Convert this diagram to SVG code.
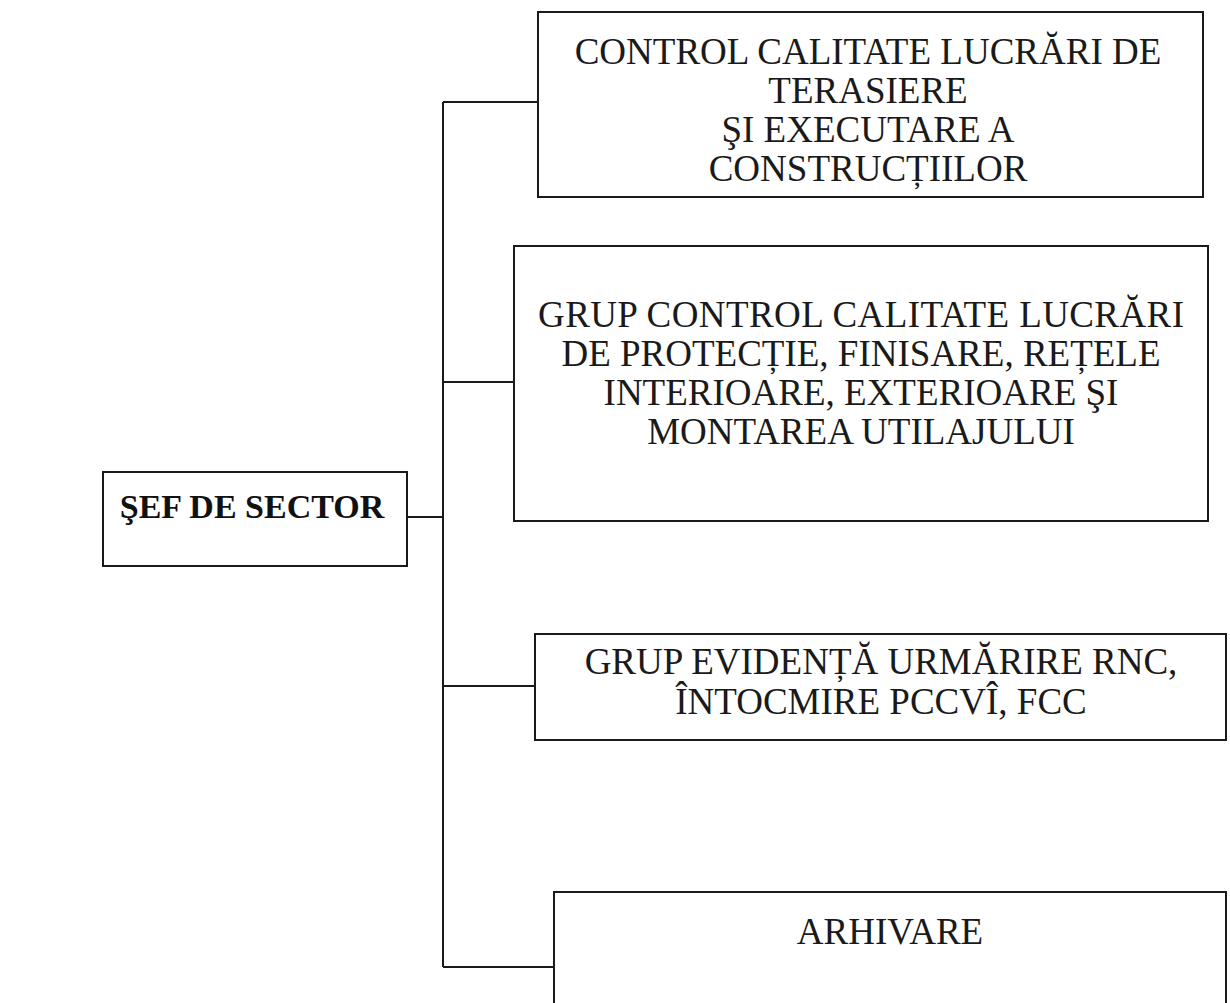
<svg xmlns="http://www.w3.org/2000/svg" width="1230" height="1003" viewBox="0 0 1230 1003">
<style>
  .box { fill: #ffffff; stroke: #1a1a1a; stroke-width: 2; }
  .conn { fill: none; stroke: #1a1a1a; stroke-width: 2; }
  .t { font-family: "Liberation Serif", "Times New Roman", serif; font-size: 37px; fill: #1a1a1a; text-anchor: middle; }
  .tb { font-family: "Liberation Serif", "Times New Roman", serif; font-size: 34px; font-weight: bold; fill: #111; text-anchor: middle; }
</style>
<rect width="1230" height="1003" fill="#ffffff"/>
<g id="connectors">
  <line class="conn" x1="443" y1="102" x2="443" y2="967"/>
  <line class="conn" x1="407" y1="517" x2="443" y2="517"/>
  <line class="conn" x1="443" y1="102" x2="538" y2="102"/>
  <line class="conn" x1="443" y1="382" x2="514" y2="382"/>
  <line class="conn" x1="443" y1="686" x2="535" y2="686"/>
  <line class="conn" x1="443" y1="967" x2="558" y2="967"/>
</g>
<g id="sef">
  <rect class="box" x="103" y="472" width="304" height="94"/>
  <text class="tb" x="252" y="518">ŞEF DE SECTOR</text>
</g>
<g id="control-terasiere">
  <rect class="box" x="538" y="12" width="665" height="185"/>
  <text class="t" x="868" y="64">CONTROL CALITATE LUCRĂRI DE</text>
  <text class="t" x="868" y="103">TERASIERE</text>
  <text class="t" x="868" y="142">ŞI EXECUTARE A</text>
  <text class="t" x="868" y="181">CONSTRUCȚIILOR</text>
</g>
<g id="grup-control">
  <rect class="box" x="514" y="246" width="694" height="275"/>
  <text class="t" x="861" y="327" textLength="646">GRUP CONTROL CALITATE LUCRĂRI</text>
  <text class="t" x="861" y="366">DE PROTECȚIE, FINISARE, REȚELE</text>
  <text class="t" x="861" y="405">INTERIOARE, EXTERIOARE ŞI</text>
  <text class="t" x="861" y="444">MONTAREA UTILAJULUI</text>
</g>
<g id="grup-evidenta">
  <rect class="box" x="535" y="634" width="691" height="106"/>
  <text class="t" x="881" y="674">GRUP EVIDENȚĂ URMĂRIRE RNC,</text>
  <text class="t" x="881" y="714">ÎNTOCMIRE PCCVÎ, FCC</text>
</g>
<g id="arhivare">
  <rect class="box" x="554" y="892" width="672" height="130"/>
  <text class="t" x="890" y="944">ARHIVARE</text>
</g>
</svg>
